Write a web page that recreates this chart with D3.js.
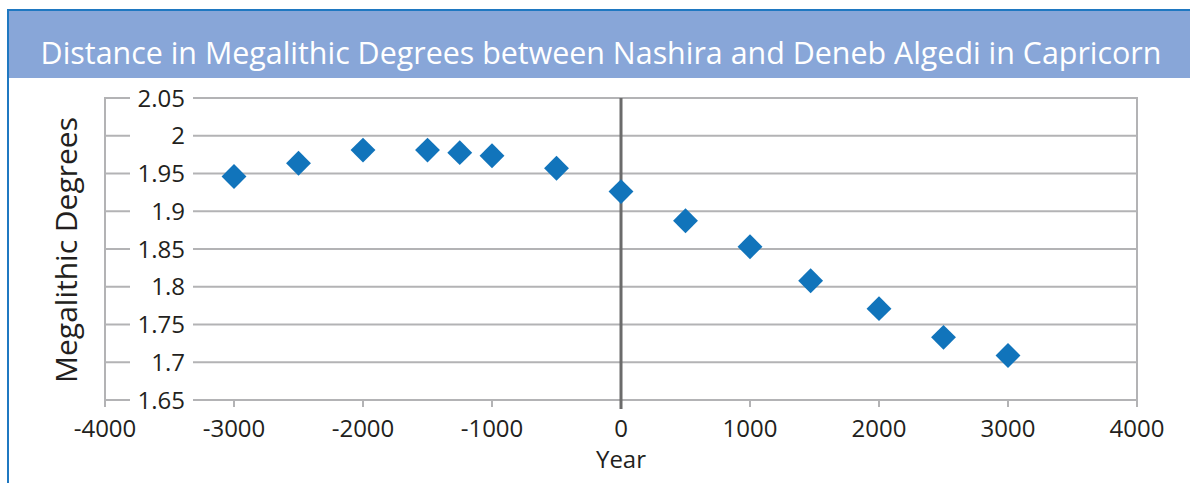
<!DOCTYPE html>
<html>
<head>
<meta charset="utf-8">
<script src="https://cdn.jsdelivr.net/npm/d3@7"></script>
<style>
  body { margin: 0; background: #fff; }
  text { font-family: "Open Sans", sans-serif; fill: #231f20; }
</style>
</head>
<body>
<div id="chart"></div>
<script>
// data
const years = [-3000, -2500, -2000, -1500, -1250, -1000, -500, 0, 500, 1000, 1470, 2000, 2500, 3000];
const degrees = [1.946, 1.9635, 1.981, 1.981, 1.9776, 1.9736, 1.957, 1.926, 1.8875, 1.853, 1.808, 1.771, 1.733, 1.709];
const xTicks = [-4000, -3000, -2000, -1000, 0, 1000, 2000, 3000, 4000];
const yTicks = [1.65, 1.7, 1.75, 1.8, 1.85, 1.9, 1.95, 2, 2.05];
const yTickLabels = ["1.65", "1.7", "1.75", "1.8", "1.85", "1.9", "1.95", "2", "2.05"];
const title = "Distance in Megalithic Degrees between Nashira and Deneb Algedi in Capricorn";
const xTitle = "Year";
const yTitle = "Megalithic Degrees";

const width = 1190, height = 483;
const gridColor = "#b3b3b5";
const frameBlue = "#1f78c1";

const svg = d3.select("#chart")
  .append("svg")
  .attr("width", width)
  .attr("height", height);

// header band + frame
svg.append("rect")
  .attr("x", 8).attr("y", 10)
  .attr("width", width - 8).attr("height", 68)
  .attr("fill", "#88a6d8");
svg.append("line")
  .attr("x1", 8).attr("x2", width).attr("y1", 10).attr("y2", 10)
  .attr("stroke", frameBlue).attr("stroke-width", 2);
svg.append("line")
  .attr("x1", 8).attr("x2", 8).attr("y1", 9).attr("y2", height)
  .attr("stroke", frameBlue).attr("stroke-width", 2);

svg.append("text")
  .attr("x", 601).attr("y", 64)
  .attr("text-anchor", "middle")
  .style("font-size", "30.4px")
  .style("fill", "#fff")
  .text(title);

// scales
const x = d3.scaleLinear().domain([-4000, 4000]).range([105, 1137]);
const y = d3.scaleLinear().domain([1.65, 2.05]).range([400, 98]);

// horizontal gridlines
svg.append("g")
  .selectAll("line")
  .data(yTicks)
  .join("line")
  .attr("x1", x.range()[0]).attr("x2", x.range()[1])
  .attr("y1", d => y(d)).attr("y2", d => y(d))
  .attr("stroke", gridColor).attr("stroke-width", 2);

// vertical frame lines (left axis, right edge)
svg.append("line")
  .attr("x1", x(-4000)).attr("x2", x(-4000))
  .attr("y1", y(2.05) - 1).attr("y2", y(1.65) + 7)
  .attr("stroke", gridColor).attr("stroke-width", 2);
svg.append("line")
  .attr("x1", x(4000)).attr("x2", x(4000))
  .attr("y1", y(2.05) - 1).attr("y2", y(1.65) + 7)
  .attr("stroke", gridColor).attr("stroke-width", 2);

// x tick marks
svg.append("g")
  .selectAll("line")
  .data(xTicks.filter(d => d !== 0 && d !== -4000 && d !== 4000))
  .join("line")
  .attr("x1", d => x(d)).attr("x2", d => x(d))
  .attr("y1", y(1.65)).attr("y2", y(1.65) + 7)
  .attr("stroke", gridColor).attr("stroke-width", 2);

// y labels sit on white patches that cut the gridlines
const yLab = svg.append("g");
yLab.selectAll("rect")
  .data(yTicks)
  .join("rect")
  .attr("x", x(-4000) + 25).attr("y", d => y(d) - 3)
  .attr("width", 63).attr("height", 6)
  .attr("fill", "#fff");
yLab.selectAll("text")
  .data(yTicks)
  .join("text")
  .attr("x", 185).attr("y", d => y(d))
  .attr("dy", "0.36em")
  .attr("text-anchor", "end")
  .style("font-size", "24px")
  .text((d, i) => yTickLabels[i]);

// vertical zero line
svg.append("line")
  .attr("x1", x(0)).attr("x2", x(0))
  .attr("y1", y(2.05)).attr("y2", y(1.65) + 9)
  .attr("stroke", "#6b6b6b").attr("stroke-width", 3);

// x labels
svg.append("g")
  .selectAll("text")
  .data(xTicks)
  .join("text")
  .attr("x", d => x(d)).attr("y", 437)
  .attr("text-anchor", "middle")
  .style("font-size", "24px")
  .text(d => d);

svg.append("text")
  .attr("x", x(0)).attr("y", 468)
  .attr("text-anchor", "middle")
  .style("font-size", "24px")
  .text(xTitle);

svg.append("text")
  .attr("transform", "translate(77,250) rotate(-90)")
  .attr("text-anchor", "middle")
  .style("font-size", "30px")
  .text(yTitle);

// diamond markers
svg.append("g")
  .selectAll("path")
  .data(years.map((yr, i) => [yr, degrees[i]]))
  .join("path")
  .attr("transform", d => `translate(${x(d[0])},${y(d[1])}) rotate(45)`)
  .attr("d", d3.symbol().type(d3.symbolSquare).size(310))
  .attr("fill", "#1174bb");
</script>
</body>
</html>
